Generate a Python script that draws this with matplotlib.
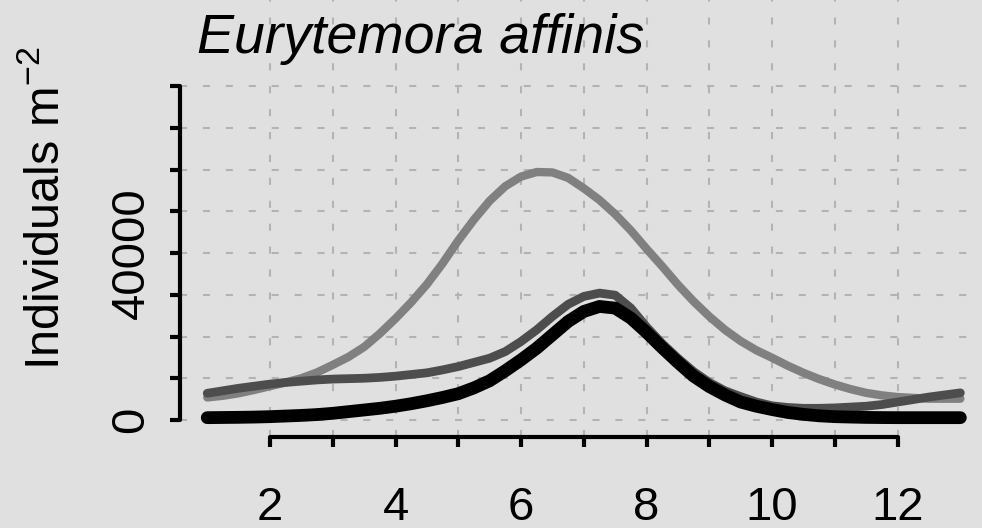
import numpy as np
import matplotlib
matplotlib.use("Agg")
import matplotlib.pyplot as plt

plt.rcParams['font.family'] = ['Liberation Sans', 'DejaVu Sans']
plt.rcParams['mathtext.fontset'] = 'custom'
plt.rcParams['mathtext.rm'] = 'Liberation Sans'
plt.rcParams['mathtext.it'] = 'Liberation Sans:italic'

# month of year (quarter steps) and fitted abundance, individuals per m^2
months = np.arange(1, 13.01, 0.25)
light = [5400, 5800, 6400, 7200, 8100, 9000, 10000, 11400, 13200, 15100, 17500, 20700,
         24300, 28200, 32500, 37500, 43000, 48000, 52500, 56000, 58300, 59400, 59300,
         58000, 55500, 52700, 49300, 45400, 41000, 36800, 32400, 28400, 24800, 21600,
         18900, 16700, 14900, 13000, 11300, 9800, 8500, 7400, 6500, 5900, 5500, 5300,
         5100, 5100, 5100]
mid = [6400, 7000, 7600, 8100, 8600, 9000, 9300, 9600, 9800, 9900, 10000, 10200,
       10500, 10900, 11300, 12000, 12800, 13800, 14800, 16400, 18800, 21600, 24800,
       27700, 29600, 30400, 29900, 26800, 22300, 18300, 14800, 11600, 9000, 7000,
       5600, 4300, 3400, 3000, 2800, 2800, 2900, 3100, 3300, 3700, 4300, 4900,
       5500, 6000, 6500]
dark = [560, 600, 640, 700, 800, 950, 1100, 1300, 1600, 2000, 2400, 2800,
        3300, 3900, 4600, 5400, 6300, 7700, 9400, 11800, 14400, 17200, 20400,
        23600, 26000, 27200, 26800, 24400, 21000, 17300, 13800, 10500, 8000, 6000,
        4300, 3300, 2500, 1800, 1350, 1000, 800, 700, 620, 580, 560, 560,
        560, 560, 560]

xticks = np.arange(2, 13)
xlabels = [str(t) if t % 2 == 0 else '' for t in xticks]
yticks = np.arange(0, 90000, 10000)
ylabels = ['0' if t == 0 else ('40000' if t == 40000 else '') for t in yticks]

bg = '#e0e0e0'
fig = plt.figure(figsize=(9.82, 5.28), dpi=100, facecolor=bg)
ax = fig.add_axes([180 / 982, 91 / 528, 802 / 982, 437 / 528])
ax.set_facecolor(bg)

style = dict(solid_capstyle='round', solid_joinstyle='round')
ax.plot(months, light, color='#808080', lw=6.0, zorder=3, **style)
ax.plot(months, mid, color='#4d4d4d', lw=6.3, zorder=4, **style)
ax.plot(months, dark, color='black', lw=9.2, zorder=5, **style)

ax.set_xlim(0.566, 13.345)
ax.set_ylim(-4072, 100600)

# dashed grid at every tick
for t in xticks:
    ax.axvline(t, color='#b3b3b3', lw=1.5, ls=(0, (3.4, 7.6)), zorder=1)
for t in yticks:
    ax.axhline(t, color='#b3b3b3', lw=1.5, ls=(0, (3.4, 7.6)), zorder=1)

for s in ['top', 'right']:
    ax.spines[s].set_visible(False)
ax.spines['left'].set_bounds(0, 80000)
ax.spines['bottom'].set_bounds(2, 12)
for s in ['left', 'bottom']:
    ax.spines[s].set_linewidth(3)
    ax.spines[s].set_capstyle('round')

ax.set_xticks(xticks)
ax.set_xticklabels(xlabels)
ax.set_yticks(yticks)
ax.set_yticklabels(ylabels, rotation=90, va='center')
ax.tick_params(axis='both', length=7, width=3, labelsize=34)
ax.tick_params(axis='x', pad=28)
ax.tick_params(axis='y', pad=12)

fig.text(197 / 982, 1 - 53 / 528, 'Eurytemora affinis', fontsize=40, style='italic',
         ha='left', va='baseline')
fig.text(46 / 982, 1 - 208 / 528, r'Individuals m$^{-2}$', fontsize=35, rotation=90,
         ha='center', va='center')

fig.savefig('out.png', dpi=100, facecolor=bg)
